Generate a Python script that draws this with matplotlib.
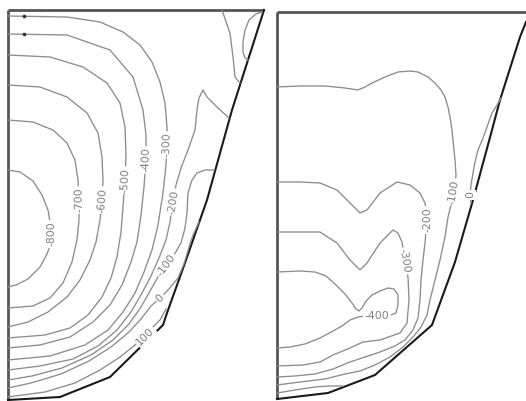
import numpy as np
import matplotlib.pyplot as plt

# ---------------------------------------------------------
# contour lines read off the picture (panel-local units, y measured downward)
# ---------------------------------------------------------
# left panel outline: slanted side + bottom
left_edge = [(256, 0), (224, 100), (199, 190), (178, 250), (159, 303),
             (155, 315), (102, 367), (52, 387), (0, 390)]
left_w, left_h = 256, 390

l_m800 = [(0, 160), (12, 162), (25, 171), (34, 185), (40, 200), (42, 212), (43, 224),
          (42, 236), (39, 244), (32, 257), (20, 269), (8, 275), (0, 277)]
l_m700 = [(0, 110), (25, 112), (45, 120), (59, 133), (67, 150), (70, 170), (71, 190),
          (71, 210), (69, 230), (64, 252), (55, 273), (42, 288), (25, 296), (0, 298)]
l_m600 = [(0, 75), (32, 77), (59, 87), (79, 103), (90, 123), (94, 147), (95, 170),
          (94, 190), (92, 210), (88, 232), (82, 250), (72, 270), (59, 287), (40, 302),
          (20, 312), (0, 317)]
l_m500 = [(0, 45), (42, 47), (75, 57), (99, 73), (112, 93), (117, 117), (118, 145),
          (117, 170), (115, 197), (113, 222), (109, 247), (103, 268), (94, 287),
          (80, 305), (62, 318), (37, 325), (0, 328)]
l_m400 = [(0, 24), (59, 25), (102, 40), (125, 67), (135, 100), (138, 125), (138, 150),
          (136, 177), (133, 205), (129, 232), (123, 252), (114, 275), (102, 295),
          (85, 312), (62, 327), (32, 335), (0, 338)]
l_m300 = [(0, 6), (59, 7), (92, 12), (115, 22), (132, 35), (144, 52), (152, 72),
          (157, 93), (159, 117), (159, 135), (158, 155), (155, 183), (150, 215),
          (144, 240), (136, 262), (127, 283), (115, 302), (100, 320), (77, 335),
          (42, 346), (0, 350)]
l_m200 = [(221, 108), (209, 97), (199, 87), (195, 80), (191, 88), (189, 100), (187, 120),
          (180, 140), (173, 158), (168, 175), (165, 192), (162, 212), (158, 230),
          (151, 248), (143, 266), (134, 283), (123, 302), (109, 320), (90, 336),
          (65, 349), (32, 356), (0, 360)]
l_m100 = [(206, 160), (197, 160), (189, 163), (184, 170), (180, 183), (179, 203),
          (177, 218), (173, 233), (166, 245), (158, 255), (150, 267), (142, 281),
          (133, 297), (121, 314), (105, 330), (83, 345), (54, 358), (24, 366), (0, 370)]
l_0 = [(191, 212), (185, 225), (181, 237), (176, 254), (170, 268), (161, 279),
       (152, 288), (143, 296), (133, 309), (120, 323), (103, 337), (81, 351),
       (53, 364), (23, 373), (0, 378)]
l_100 = [(158, 299), (152, 310), (144, 318), (137, 326), (127, 335), (112, 347),
         (92, 360), (67, 373), (37, 382), (0, 387)]
l_top = [(214, 0), (222, 23), (225, 47), (227, 67), (232, 73)]
l_loop = [(254, 2), (248, 4), (241, 10), (237, 20), (235, 32), (235, 42), (237, 48), (240, 50)]

left_lines = [l_m800, l_m700, l_m600, l_m500, l_m400, l_m300, l_m200, l_m100, l_0, l_100,
              l_top, l_loop]
left_levels = ["-800", "-700", "-600", "-500", "-400", "-300", "-200", "-100", "0", "100",
               None, None]
left_lab_at = [6, 6, 7, 7, 6, 9, 10, 9, 6, 3, None, None]
left_dots = [(16, 6), (16, 24)]

# right panel
right_edge = [(249, 10), (243, 25), (223, 88), (215, 118), (196, 188), (178, 250),
              (155, 313), (98, 363), (51, 381), (0, 387)]
right_w, right_h = 249, 387

r_m100 = [(0, 75), (23, 74), (48, 74), (68, 76), (81, 78), (88, 75), (95, 71), (108, 65),
          (121, 60), (133, 59), (141, 60), (151, 65), (158, 71), (164, 78), (168, 85),
          (171, 95), (173, 105), (175, 118), (176, 128), (178, 148), (179, 163),
          (177, 180), (174, 193), (171, 205), (168, 225), (163, 248), (158, 268),
          (153, 288), (150, 303), (144, 315), (136, 325), (126, 335), (113, 345),
          (98, 353), (83, 359), (68, 362), (48, 367), (23, 370), (0, 373)]
r_m200 = [(0, 170), (23, 170), (43, 171), (60, 178), (73, 191), (83, 201), (90, 198),
          (103, 181), (120, 170), (133, 173), (143, 181), (148, 191), (150, 208),
          (148, 231), (146, 248), (144, 268), (143, 288), (141, 306), (136, 318),
          (128, 328), (118, 334), (103, 340), (88, 345), (73, 350), (56, 357),
          (38, 362), (18, 364), (0, 365)]
r_m300 = [(0, 220), (43, 220), (60, 231), (73, 248), (83, 258), (90, 251), (103, 231),
          (116, 218), (121, 221), (125, 230), (128, 249), (131, 265), (132, 288),
          (130, 311), (123, 321), (103, 328), (86, 330), (73, 336), (56, 343),
          (43, 350), (26, 353), (0, 354)]
r_m400 = [(0, 260), (23, 259), (38, 260), (49, 264), (58, 272), (68, 282), (75, 291),
          (79, 297), (82, 299), (85, 296), (89, 289), (95, 283), (103, 279), (111, 276),
          (117, 277), (121, 283), (121, 293), (119, 301), (111, 304), (100, 304),
          (89, 304), (81, 305), (73, 308), (65, 314), (56, 319), (43, 326), (28, 332),
          (13, 335), (0, 336)]
r_0a = [(224, 86), (220, 93), (215, 101), (210, 115), (206, 126), (201, 138),
        (198, 150), (196, 161), (194, 173), (193, 183), (194, 191)]
r_0b = [(0, 381), (18, 378), (38, 375), (52, 374), (66, 374)]

right_lines = [r_m100, r_m200, r_m300, r_m400, r_0a, r_0b]
right_levels = ["-100", "-200", "-300", "-400", "0", None]
right_lab_at = [21, 12, 10, 19, 9, None]

# which way the vertical-ish labels read (+1: bottom to top, -1: top to bottom)
left_read = [1, 1, 1, 1, 1, 1, 1, 1, 1, 1, None, None]
right_read = [1, 1, -1, 1, 1, None]


def draw_panel(ax, w, h, edge, lines, levels, lab_at, read):
    ax.set_xlim(0, w)
    ax.set_ylim(h, 0)
    ax.axis("off")
    # wall and top
    ax.plot([0, 0], [0, edge[-1][1]], color="#555555", lw=2.0, clip_on=False,
            solid_capstyle="butt")
    ax.plot([0, w], [0, 0], color="#555555", lw=2.0, clip_on=False,
            solid_capstyle="butt")
    ex, ey = zip(*edge)
    ax.plot(ex, ey, color="#1a1a1a", lw=1.5, clip_on=False, solid_joinstyle="round")

    for pts, lev, k, rd in zip(lines, levels, lab_at, read):
        x, y = np.array(pts, dtype=float).T
        ax.plot(x, y, color="#8c8c8c", lw=0.95, solid_joinstyle="round", zorder=2)
        if lev is None:
            continue
        i0, i1 = max(k - 1, 0), min(k + 1, len(x) - 1)
        p0 = ax.transData.transform((x[i0], y[i0]))
        p1 = ax.transData.transform((x[i1], y[i1]))
        ang = np.degrees(np.arctan2(p1[1] - p0[1], p1[0] - p0[0]))
        ang = (ang + 90) % 180 - 90
        if abs(ang) > 60 and np.sign(ang) != rd:
            ang += 180 * rd
        ax.text(x[k], y[k], lev, fontsize=7.8, color="#7f7f7f", rotation=ang,
                rotation_mode="anchor", ha="center", va="center", zorder=3,
                bbox=dict(boxstyle="square,pad=0.12", fc="white", ec="none"))


fig = plt.figure(figsize=(5.26, 4.01), dpi=100)
axL = fig.add_axes([8 / 526, 1 / 401, left_w / 526, left_h / 401])
axR = fig.add_axes([277 / 526, 2 / 401, right_w / 526, right_h / 401])

draw_panel(axL, left_w, left_h, left_edge, left_lines, left_levels, left_lab_at, left_read)
draw_panel(axR, right_w, right_h, right_edge, right_lines, right_levels, right_lab_at,
           right_read)

dx, dy = zip(*left_dots)
axL.plot(dx, dy, "o", color="#333333", ms=1.6, zorder=3)

fig.savefig("out.png", dpi=100)
